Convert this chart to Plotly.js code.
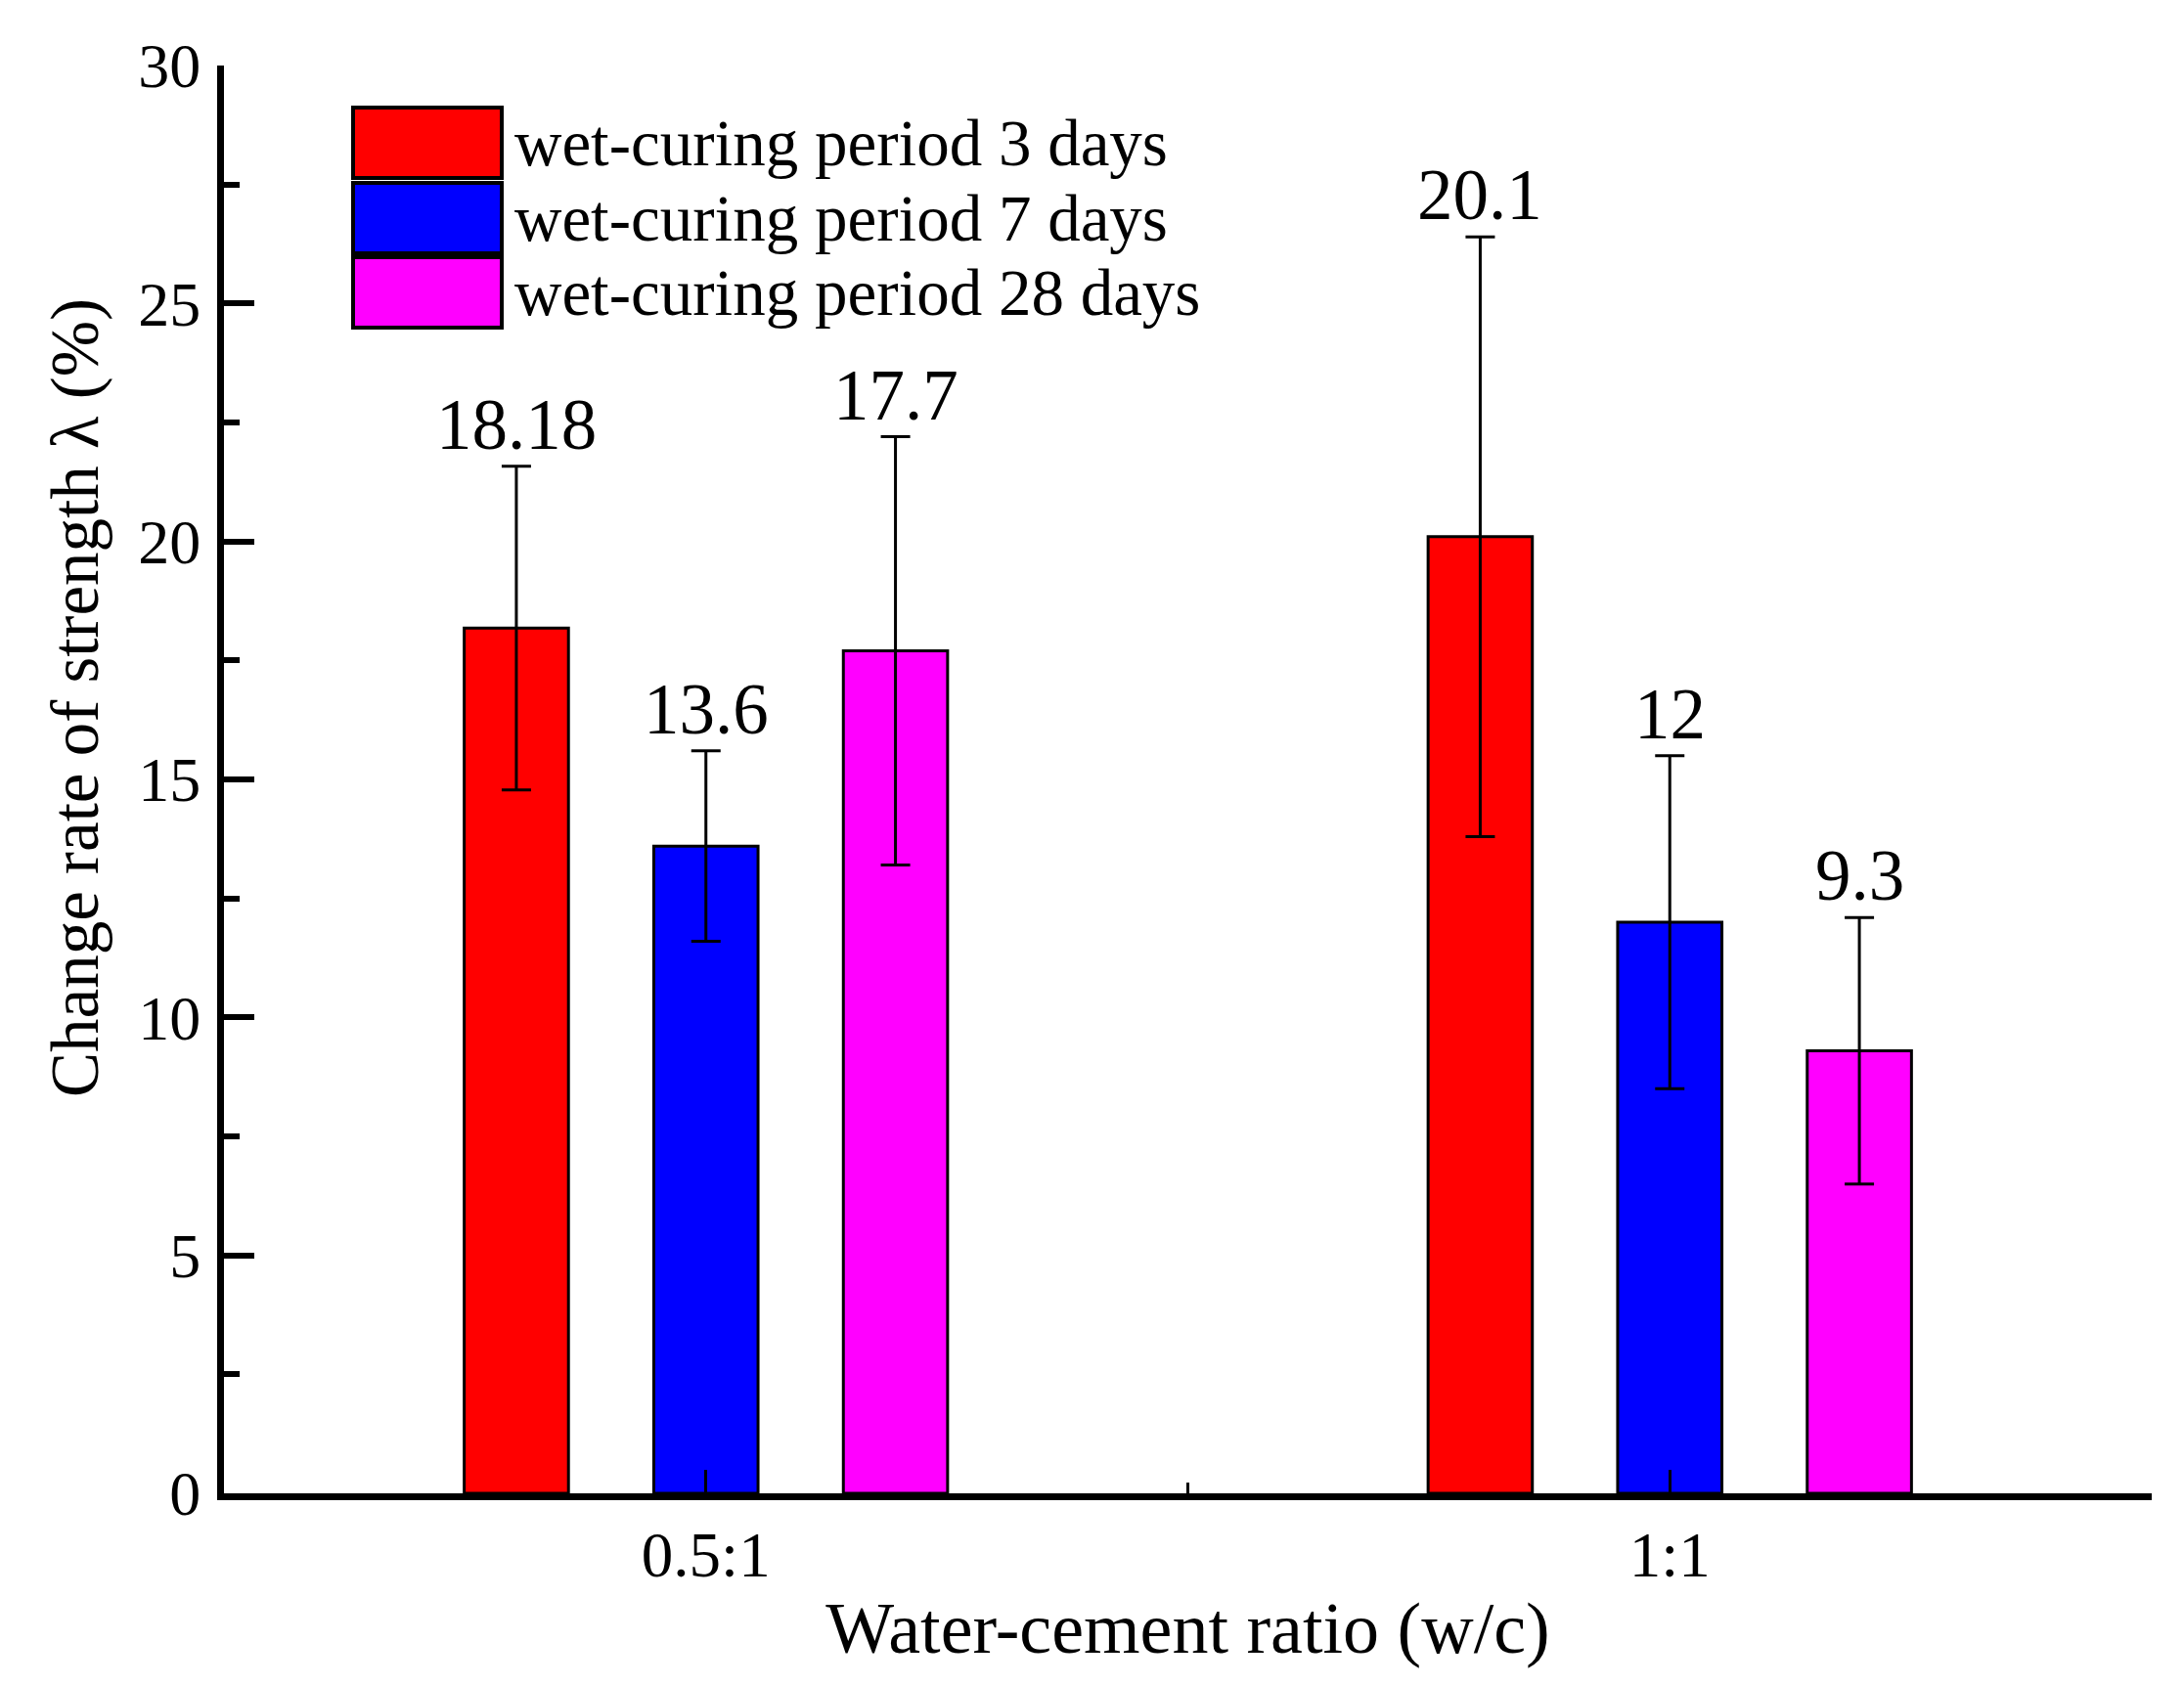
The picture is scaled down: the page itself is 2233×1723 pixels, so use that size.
<!DOCTYPE html>
<html>
<head>
<meta charset="utf-8">
<script src="https://cdn.plot.ly/plotly-3.0.1.min.js"></script>
<style>
body { margin: 0; background: #fff; }
#chart { width: 2233px; height: 1723px; }
</style>
</head>
<body>
<div id="chart"></div>
<script>
// water-cement ratios on the x axis
const categories = ["0.5:1", "1:1"]

const seriesNames = ["wet-curing period 3 days", "wet-curing period 7 days", "wet-curing period 28 days"]
const colors = ["#FF0000", "#0000FF", "#FF00FF"]

// change rate of strength (%) per wet-curing period
const days3 = [18.18, 20.1]
const days7 = [13.6, 12]
const days28 = [17.7, 9.3]

// error bar half lengths
const err3 = [3.4, 6.3]
const err7 = [2.0, 3.5]
const err28 = [4.5, 2.8]

const yTicks = [0, 5, 10, 15, 20, 25, 30]

const values = [days3, days7, days28]
const errors = [err3, err7, err28]
const xIdx = categories.map((c, i) => i)

const FONT = "Liberation Serif, Times New Roman, serif"

// plot area in pixels
const L = 229, R = 33, T = 67, B = 196, W = 2233, H = 1723
const pw = W - L - R, ph = H - T - B
const px = x => (x - L) / pw
const py = y => (H - B - y) / ph

const bargap = 0.41
const slot = (1 - bargap) / 3

let traces = values.map((v, k) => ({
  type: "bar",
  name: seriesNames[k],
  x: xIdx,
  y: v,
  showlegend: false,
  marker: { color: colors[k], line: { color: "#000", width: 3 } },
  error_y: { type: "data", array: errors[k], visible: true, color: "#000", thickness: 3, width: 15 }
}))

let annotations = []

// value labels on top of each error bar
values.forEach((v, k) => {
  v.forEach((val, i) => {
    annotations.push({
      xref: "x", yref: "y",
      x: i + (k - 1) * slot,
      y: val + errors[k][i],
      text: String(val),
      showarrow: false,
      yanchor: "bottom",
      yshift: 0,
      font: { family: FONT, size: 73, color: "#000" }
    })
  })
})

// legend drawn by hand to get the big swatches
let shapes = []
const legTop = [110, 187, 263]
const legH = 72
seriesNames.forEach((name, k) => {
  shapes.push({
    type: "rect", xref: "paper", yref: "paper",
    x0: px(361), x1: px(513), y0: py(legTop[k]), y1: py(legTop[k] + legH),
    fillcolor: colors[k], line: { color: "#000", width: 4 }
  })
  annotations.push({
    xref: "paper", yref: "paper",
    x: px(524), y: py(legTop[k] + legH / 2),
    xanchor: "left", yanchor: "middle",
    text: name, showarrow: false,
    font: { family: FONT, size: 67, color: "#000" }
  })
})

// y axis title, placed where the original has it (above the middle)
annotations.push({
  xref: "paper", yref: "paper",
  x: px(77), y: py(714),
  xanchor: "center", yanchor: "middle",
  textangle: -90,
  text: "Change rate of strength λ (%)", showarrow: false,
  font: { family: FONT, size: 69, color: "#000" }
})

let layout = {
  width: W, height: H,
  margin: { l: L, r: R, t: T, b: B },
  paper_bgcolor: "#fff",
  plot_bgcolor: "#fff",
  barmode: "group",
  bargap: bargap,
  bargroupgap: 0.45,
  font: { family: FONT, color: "#000" },
  xaxis: {
    range: [-0.5, 1.5],
    tickmode: "array",
    tickvals: xIdx,
    ticktext: categories,
    ticks: "inside", ticklen: 24, tickwidth: 3, tickcolor: "#000",
    minor: { ticks: "inside", tick0: 0.5, dtick: 1, ticklen: 11, tickwidth: 3, tickcolor: "#000" },
    showline: true, linecolor: "#000", linewidth: 7,
    showgrid: false, zeroline: false,
    tickfont: { family: FONT, size: 65 },
    ticklabelstandoff: 0,
    title: { text: "Water-cement ratio (w/c)", font: { family: FONT, size: 74 }, standoff: 16 }
  },
  yaxis: {
    range: [0, 30],
    tickmode: "array",
    tickvals: yTicks,
    ticks: "inside", ticklen: 31, tickwidth: 6, tickcolor: "#000",
    minor: { ticks: "inside", dtick: 2.5, ticklen: 16, tickwidth: 6, tickcolor: "#000" },
    showline: true, linecolor: "#000", linewidth: 7,
    showgrid: false, zeroline: false,
    tickfont: { family: FONT, size: 64 },
    ticklabelstandoff: 4
  },
  shapes: shapes,
  annotations: annotations
}

Plotly.newPlot("chart", traces, layout, { displayModeBar: false, staticPlot: true })
</script>
</body>
</html>
